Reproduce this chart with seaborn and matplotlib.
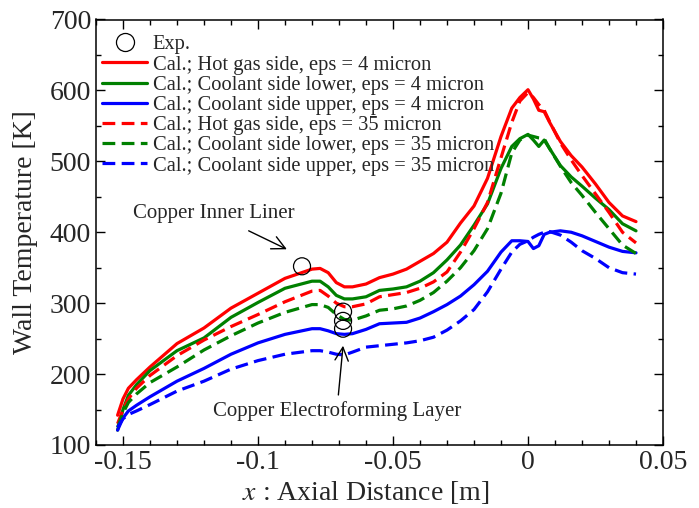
import numpy as np
import pandas as pd
import matplotlib
matplotlib.use('Agg')
import matplotlib.pyplot as plt
from matplotlib.lines import Line2D
import seaborn as sns

# axial positions [m] shared by all calculated curves
x_cal = [-0.152, -0.150, -0.148, -0.145, -0.14, -0.13, -0.12, -0.11, -0.10, -0.09,
         -0.08, -0.077, -0.074, -0.071, -0.068, -0.065, -0.06, -0.055, -0.05, -0.045,
         -0.04, -0.035, -0.03, -0.025, -0.02, -0.015, -0.01, -0.006, -0.003, 0.0,
         0.002, 0.004, 0.006, 0.008, 0.012, 0.016, 0.02, 0.025, 0.03, 0.035, 0.04]

## eps = 4 micron
hot_4 = [142, 165, 180, 192, 210, 243, 265, 293, 314, 335,
         348, 349, 343, 329, 323, 323, 327, 336, 341, 348,
         359, 370, 386, 413, 437, 476, 535, 575, 590, 601,
         588, 572, 570, 555, 528, 508, 492, 468, 442, 423, 415]
low_4 = [121, 150, 170, 185, 205, 233, 251, 280, 301, 321,
         331, 331, 323, 311, 306, 306, 309, 318, 320, 323,
         331, 343, 361, 382, 410, 440, 490, 521, 532, 538,
         530, 521, 530, 518, 494, 478, 465, 448, 432, 412, 402]
up_4 = [121, 138, 148, 156, 168, 190, 208, 228, 244, 256,
        264, 264, 261, 257, 256, 257, 263, 271, 272, 273,
        279, 288, 298, 310, 326, 345, 372, 388, 388, 387,
        377, 381, 397, 400, 402, 400, 395, 387, 379, 373, 371]

## eps = 35 micron
hot_35 = [130, 150, 165, 180, 198, 226, 248, 267, 284, 302,
          317, 318, 310, 300, 295, 295, 299, 309, 312, 315,
          321, 330, 344, 372, 405, 442, 505, 555, 585, 597,
          590, 580, 572, 556, 526, 502, 480, 454, 428, 400, 385]
low_35 = [125, 145, 160, 172, 188, 210, 234, 254, 272, 287,
          298, 298, 294, 284, 277, 276, 282, 290, 292, 296,
          304, 315, 331, 350, 374, 405, 455, 512, 530, 537,
          535, 533, 532, 518, 493, 470, 452, 428, 405, 382, 370]
up_35 = [125, 137, 143, 148, 157, 176, 190, 207, 219, 228,
         233, 233, 231, 228, 227, 231, 238, 240, 242, 244,
         247, 252, 262, 275, 291, 316, 348, 372, 383, 388,
         393, 397, 400, 401, 396, 386, 374, 363, 350, 343, 341]

# experiment
x_exp = [-0.0837, -0.0685, -0.0685, -0.0685]
t_exp = [352, 288, 275, 264]

labels = ['Cal.; Hot gas side, eps = 4 micron',
          'Cal.; Coolant side lower, eps = 4 micron',
          'Cal.; Coolant side upper, eps = 4 micron',
          'Cal.; Hot gas side, eps = 35 micron',
          'Cal.; Coolant side lower, eps = 35 micron',
          'Cal.; Coolant side upper, eps = 35 micron']
series = [hot_4, low_4, up_4, hot_35, low_35, up_35]
colors = ['#ff0000', '#008000', '#0000ff', '#ff0000', '#008000', '#0000ff']
styles = ['-', '-', '-', (0, (4, 2)), (0, (4, 2)), (0, (4, 2))]

#%%
sns.set_style('ticks')
plt.rcParams['font.family'] = ['Liberation Serif', 'DejaVu Serif']
plt.rcParams['mathtext.fontset'] = 'stix'

fig = plt.figure(figsize=(6.99, 5.08), dpi=100)
ax = fig.add_axes([96/699, 1-445/508, 567/699, 425.5/508])

handles = []
ax.scatter(x_exp, t_exp, s=150, facecolors='none', edgecolors='k', linewidths=0.9, zorder=5)
handles.append(Line2D([], [], marker='o', ms=13, mfc='none', mec='k', mew=0.9, ls='none'))

for y, lab, c, ls in zip(series, labels, colors, styles):
    sns.lineplot(x=x_cal, y=y, color=c, linestyle=ls, lw=2.3, sort=False,
                 estimator=None, ax=ax)
    handles.append(Line2D([], [], color=c, linestyle=ls, lw=2.3))

ax.legend(handles, ['Exp.'] + labels, loc='upper left', bbox_to_anchor=(0.0, 0.978),
          frameon=False, fontsize=14.8, handlelength=2.2, handletextpad=0.25,
          labelspacing=0.04, borderaxespad=0.2, borderpad=0.1)

ax.annotate('Copper Inner Liner', xy=(-0.0893, 376), xytext=(-0.1165, 426),
            ha='center', va='center', fontsize=15,
            arrowprops=dict(arrowstyle='->', color='k', lw=1.0, mutation_scale=24,
                            shrinkA=7, shrinkB=0))
ax.annotate('Copper Electroforming Layer', xy=(-0.0685, 240), xytext=(-0.0708, 148),
            ha='center', va='center', fontsize=15,
            arrowprops=dict(arrowstyle='->', color='k', lw=1.0, mutation_scale=24,
                            shrinkA=2, shrinkB=0))

ax.set_xlim(-0.16, 0.05)
ax.set_ylim(100, 700)
ax.set_xticks([-0.15, -0.1, -0.05, 0, 0.05])
ax.set_xticklabels(['-0.15', '-0.1', '-0.05', '0', '0.05'])
ax.set_xticks(np.arange(-0.16, 0.0501, 0.01), minor=True)
ax.set_yticks(np.arange(100, 701, 100))
ax.set_yticks(np.arange(100, 701, 50), minor=True)
ax.tick_params(which='both', direction='in', top=True, right=True, width=1.0,
               labelsize=20, pad=3.5, color='k')
ax.tick_params(which='major', length=6.5)
ax.tick_params(which='minor', length=3.3)
for sp in ax.spines.values():
    sp.set_linewidth(1.1)
    sp.set_color('k')

ax.set_xlabel('$x$ : Axial Distance [m]', fontsize=20)
ax.set_ylabel('Wall Temperature [K]', fontsize=20)
ax.xaxis.set_label_coords(0.475, -0.08)
ax.yaxis.set_label_coords(-0.102, 0.5)

fig.savefig('out.png', dpi=100)
